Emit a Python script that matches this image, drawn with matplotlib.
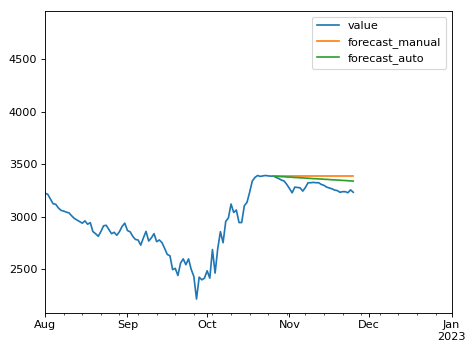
import numpy as np
import pandas as pd
import matplotlib
matplotlib.use("Agg")
import matplotlib.pyplot as plt
import matplotlib.dates as mdates

# daily observed series starting 2022-08-01
start = "2022-08-01"
value = [
    3225, 3215, 3170, 3125, 3120, 3085, 3062, 3055, 3045, 3038,
    3010, 2985, 2970, 2955, 2940, 2962, 2930, 2945, 2860, 2840,
    2815, 2860, 2915, 2920, 2880, 2840, 2853, 2825, 2860, 2910,
    2940, 2870, 2858, 2815, 2785, 2780, 2731, 2800, 2862, 2770,
    2800, 2840, 2764, 2780, 2755, 2700, 2642, 2630, 2498, 2510,
    2442, 2561, 2600, 2545, 2600, 2500, 2433, 2218, 2426, 2401,
    2417, 2487, 2417, 2689, 2465, 2700, 2859, 2754, 2956, 2990,
    3122, 3042, 3065, 2946, 2946, 3106, 3138, 3234, 3341, 3375,
    3394, 3385, 3390, 3394, 3390, 3388, 3388, 3375, 3364, 3350,
    3341, 3308, 3270, 3229, 3283, 3280, 3276, 3245, 3280, 3325,
    3325, 3328, 3325, 3325, 3308, 3300, 3283, 3275, 3267, 3255,
    3250, 3234, 3240, 3240, 3230, 3257, 3234,
]

# forecasts over the last 31 days
forecast_manual = [
    3388, 3388, 3388, 3388, 3388, 3388, 3388, 3388, 3388, 3388,
    3388, 3388, 3388, 3388, 3388, 3388, 3388, 3388, 3388, 3388,
    3388, 3388, 3388, 3388, 3388, 3388, 3388, 3388, 3388, 3388,
    3388,
]
forecast_auto = [
    3388, 3386, 3385, 3383, 3382, 3380, 3379, 3377, 3375, 3374,
    3372, 3371, 3369, 3368, 3366, 3364, 3363, 3361, 3360, 3358,
    3357, 3355, 3353, 3352, 3350, 3349, 3347, 3346, 3344, 3342,
    3341,
]

month_ticks = ["2022-08-01", "2022-09-01", "2022-10-01", "2022-11-01",
               "2022-12-01", "2023-01-01"]
month_labels = ["Aug", "Sep", "Oct", "Nov", "Dec", "Jan\n2023"]
y_ticks = [2500, 3000, 3500, 4000, 4500]

dates = pd.date_range(start, periods=len(value), freq="D")
fc_dates = dates[-len(forecast_auto):]

DPI = 81
fig = plt.figure(figsize=(465 / DPI, 342 / DPI), dpi=DPI)
ax = fig.add_axes([0.097, 0.086, 0.874, 0.882])

ax.plot(dates, value, color="#1f77b4", label="value")
ax.plot(fc_dates, forecast_manual, color="#ff7f0e", label="forecast_manual")
ax.plot(fc_dates, forecast_auto, color="#2ca02c", label="forecast_auto")

ax.set_xlim(pd.Timestamp(month_ticks[0]), pd.Timestamp(month_ticks[-1]))
ax.set_ylim(2089, 4960)
ax.set_xticks(pd.to_datetime(month_ticks))
ax.set_xticklabels(month_labels)
ax.xaxis.set_minor_locator(mdates.WeekdayLocator(byweekday=mdates.MO))
ax.set_yticks(y_ticks)

ax.legend(loc="upper right")

fig.savefig("out.png", dpi=DPI)
